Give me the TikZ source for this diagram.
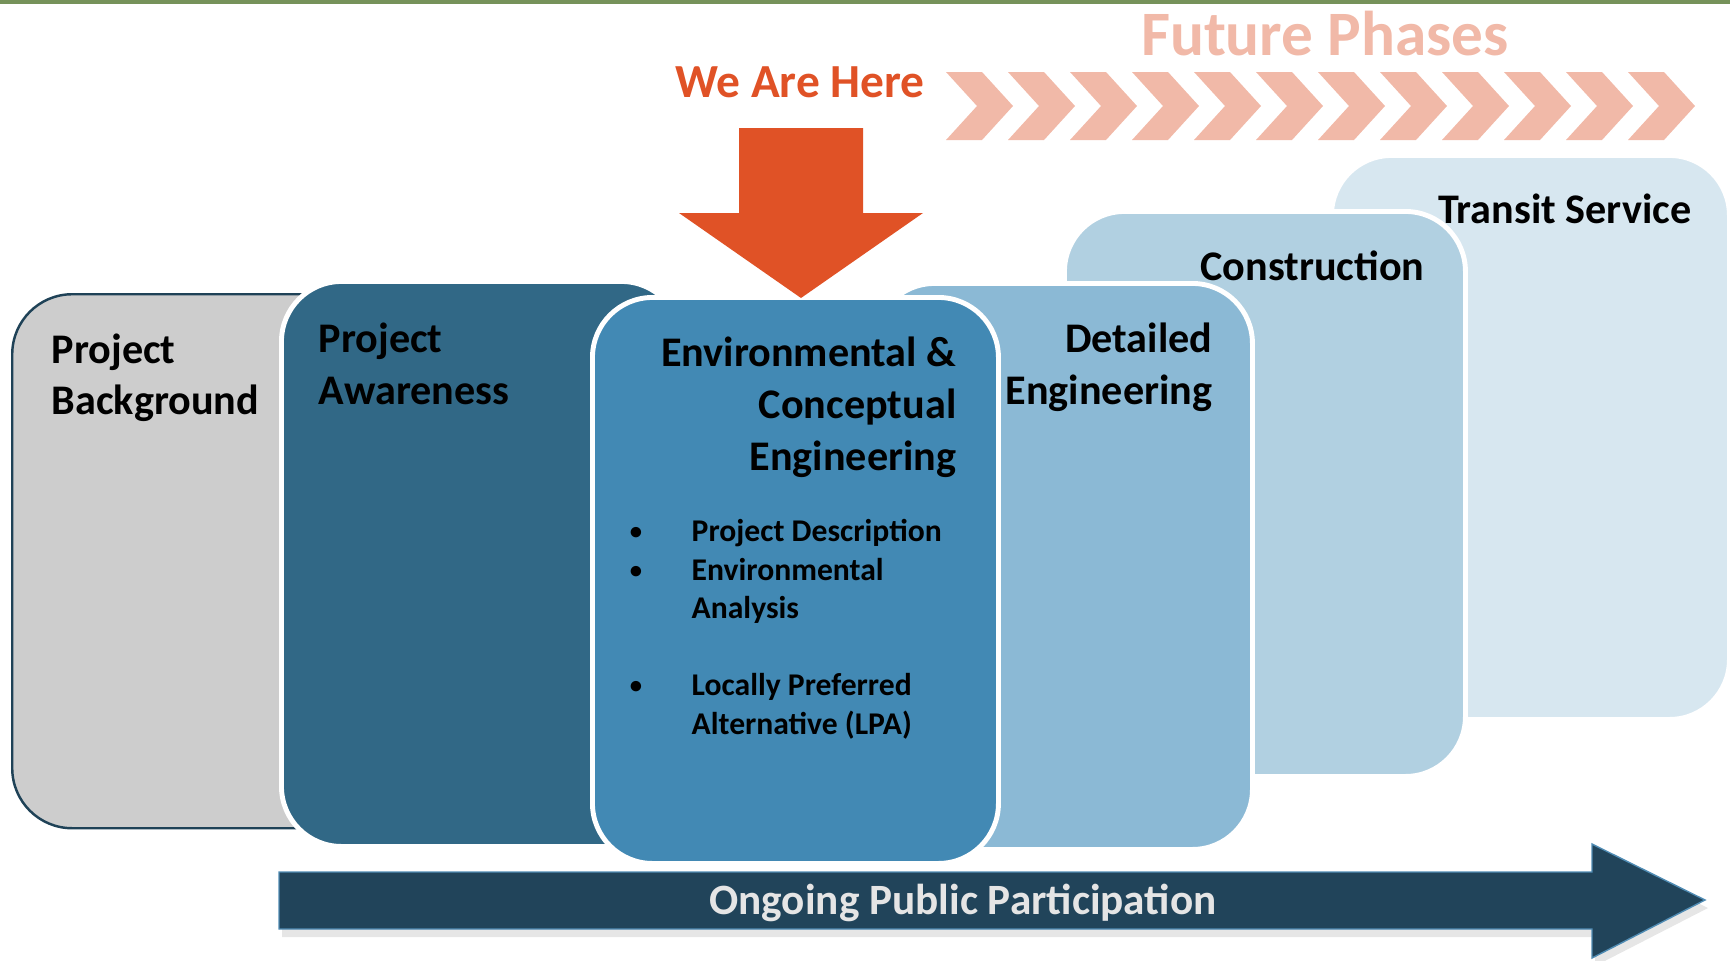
\documentclass[tikz,border=0pt]{standalone}
\usepackage{fontspec}
\setmainfont{Carlito}
\usepackage{tikz}
\usetikzlibrary{calc, positioning, shadows}
\usepackage{xcolor}
\definecolor{colBar}{RGB}{118, 146, 90}
\definecolor{colFuture}{RGB}{241, 185, 168}
\definecolor{colHere}{RGB}{224, 82, 38}
\definecolor{colBackgr}{RGB}{205, 205, 205}
\definecolor{colEdge}{RGB}{31, 66, 87}
\definecolor{colAware}{RGB}{49, 104, 134}
\definecolor{colEnv}{RGB}{66, 137, 180}
\definecolor{colDetail}{RGB}{139, 185, 213}
\definecolor{colConstr}{RGB}{177, 208, 225}
\definecolor{colTransit}{RGB}{215, 231, 240}
\definecolor{colPublic}{RGB}{33, 68, 90}
\definecolor{colPubEdge}{RGB}{80, 140, 180}

\begin{document}
\begin{tikzpicture}[
  x=0.1mm, y=-0.1mm,
  phase/.style={draw=white, line width=1.4pt, rounded corners=6mm,
                fill=#1, anchor=north west, inner sep=0pt},
  ttl/.style={font=\fontsize{12}{14.7}\selectfont\bfseries, inner sep=0pt},
  itm/.style={font=\fontsize{9}{11}\selectfont\bfseries, inner sep=0pt,
              anchor=base west},
  dot/.style={font=\fontsize{7}{9}\selectfont\bfseries, inner sep=0pt,
              anchor=base}
]
\useasboundingbox (0,0) rectangle (1730,960);

% ---------- Bandeau du haut ----------
\fill[colBar] (0,0) rectangle (1730,4);

% ---------- Phases futures ----------
\node[font=\fontsize{18}{20}\selectfont\bfseries, colFuture, inner sep=0pt,
      anchor=base] (future) at (1325,55) {Future Phases};
\foreach \i in {0,...,11} {
  \pgfmathsetmacro\cx{946+62*\i}
  \fill[colFuture] (\cx,72) -- ++(36,0) -- ++(31,34) -- ++(-31,34)
    -- ++(-36,0) -- ++(31,-34) -- cycle;
}

% ---------- Boîtes des phases (de l'arrière vers l'avant) ----------
\node[phase=colTransit, minimum width=39.8mm, minimum height=56.4mm]
  (transit) at (1329,153) {};
\node[phase=colConstr, minimum width=40.1mm, minimum height=56.5mm]
  (constr) at (1062,209) {};
\node[phase=colDetail, minimum width=37.8mm, minimum height=56.6mm]
  (detail) at (872,281) {};
\node[phase=colBackgr, draw=colEdge, line width=0.7pt,
      minimum width=38mm, minimum height=53.4mm]
  (backgr) at (11,293) {};
\node[phase=colAware, minimum width=40mm, minimum height=56.5mm]
  (aware) at (279,279) {};
\node[phase=colEnv, minimum width=40.6mm, minimum height=56.6mm]
  (env) at (590,295) {};

% ---------- Titres ----------
\node[ttl, anchor=base west] (bg1) at (51,363) {Project};
\node[ttl, anchor=base west] (bg2) at (51,414) {Background};
\node[ttl, anchor=base west] (aw1) at (318,352) {Project};
\node[ttl, anchor=base west] (aw2) at (318,404) {Awareness};
\node[ttl, anchor=base east] (en1) at (957,366) {Environmental \&};
\node[ttl, anchor=base east] (en2) at (957,418) {Conceptual};
\node[ttl, anchor=base east] (en3) at (957,470) {Engineering};
\node[ttl, anchor=base east] (de1) at (1213,352) {Detailed};
\node[ttl, anchor=base east] (de2) at (1213,404) {Engineering};
\node[ttl, anchor=base east] (co1) at (1425,280) {Construction};
\node[ttl, anchor=base east] (tr1) at (1692,223) {Transit Service};

% ---------- Liste de la phase en cours ----------
\node[dot] (b1) at (636,539) {\textbullet};
\node[dot] (b2) at (636,578) {\textbullet};
\node[dot] (b3) at (636,693) {\textbullet};
\node[itm] (it1) at (691,541) {Project Description};
\node[itm] (it2) at (691,580) {Environmental};
\node[itm] (it2b) at (691,618) {Analysis};
\node[itm] (it3) at (691,695) {Locally Preferred};
\node[itm] (it3b) at (691,734) {Alternative (LPA)};

% ---------- Nous sommes ici ----------
\node[font=\fontsize{13.5}{16}\selectfont\bfseries, colHere, inner sep=0pt,
      anchor=base] (here) at (800,97) {We Are Here};
\coordinate (tip) at (801,298);
\fill[colHere] (739,128) -- (863,128) -- (863,213) -- (923,213)
  -- (tip) -- (679,213) -- (739,213) -- cycle;

% ---------- Participation du public ----------
\filldraw[fill=colPublic, draw=colPubEdge, line width=0.4pt,
          drop shadow={shadow xshift=0.3mm, shadow yshift=-0.8mm,
                       opacity=0.2}]
  (279,872) -- (1592,872) -- (1592,844) -- (1705,900) -- (1592,958)
  -- (1592,929) -- (279,929) -- cycle;
\node[font=\fontsize{12.3}{14}\selectfont\bfseries, text=black!10,
      inner sep=0pt, anchor=base] (public) at (963,914)
  {Ongoing Public Participation};

\end{tikzpicture}
\end{document}
